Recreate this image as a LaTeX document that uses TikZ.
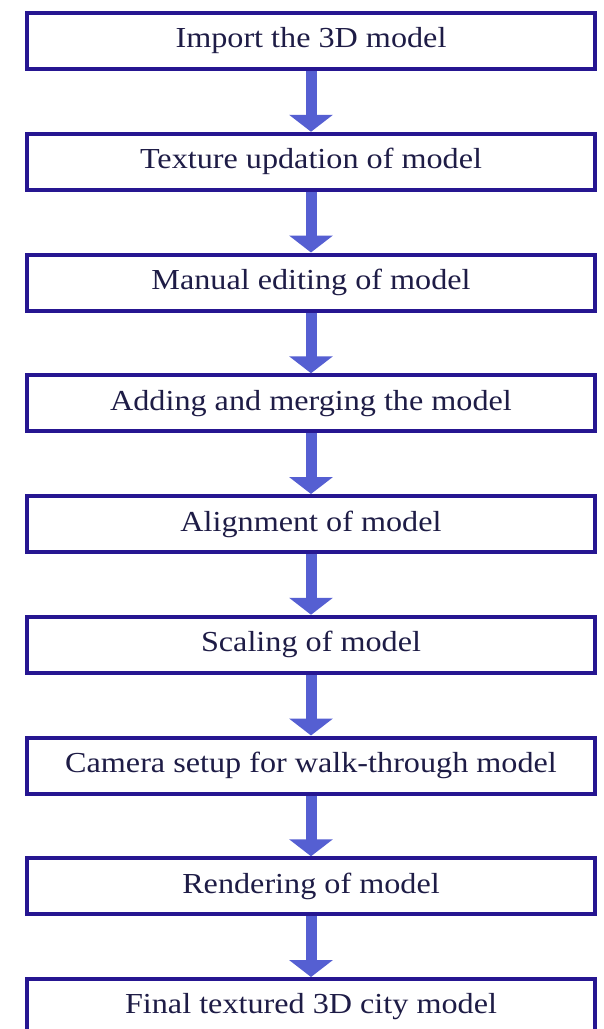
\documentclass[tikz,border=0pt]{standalone}
\usepackage{fontspec}
\setmainfont[FakeStretch=1.11]{Liberation Serif}
\usetikzlibrary{arrows.meta}
\definecolor{boxc}{RGB}{38,22,145}
\definecolor{arrc}{RGB}{85,95,210}
\definecolor{txtc}{RGB}{30,28,70}
\begin{document}
\begin{tikzpicture}[x=1pt,y=-1pt,
  stepbox/.style={draw=boxc,line width=4pt,minimum width=568pt,minimum height=56pt,inner sep=0pt,
    font=\fontsize{29}{33}\selectfont,text=txtc},
  flow/.style={arrc,line width=11pt,-{Triangle[width=43pt,length=17pt]}}]
\useasboundingbox (0,0) rectangle (604,1029);
\fill[white] (0,0) rectangle (604,1029);
\foreach \i/\t in {1/Import the 3D model,2/Texture updation of model,3/Manual editing of model,4/Adding and merging the model,5/Alignment of model,6/Scaling of model,7/Camera setup for walk-through model,8/Rendering of model,9/Final textured 3D city model}{
  \node[stepbox] (b\i) at (311,{41+120.75*(\i-1)}) {\t};
}
\foreach \i [evaluate=\i as \j using int(\i+1)] in {1,...,8}{
  \draw[flow] (b\i.south) -- (b\j.north);
}
\end{tikzpicture}
\end{document}
